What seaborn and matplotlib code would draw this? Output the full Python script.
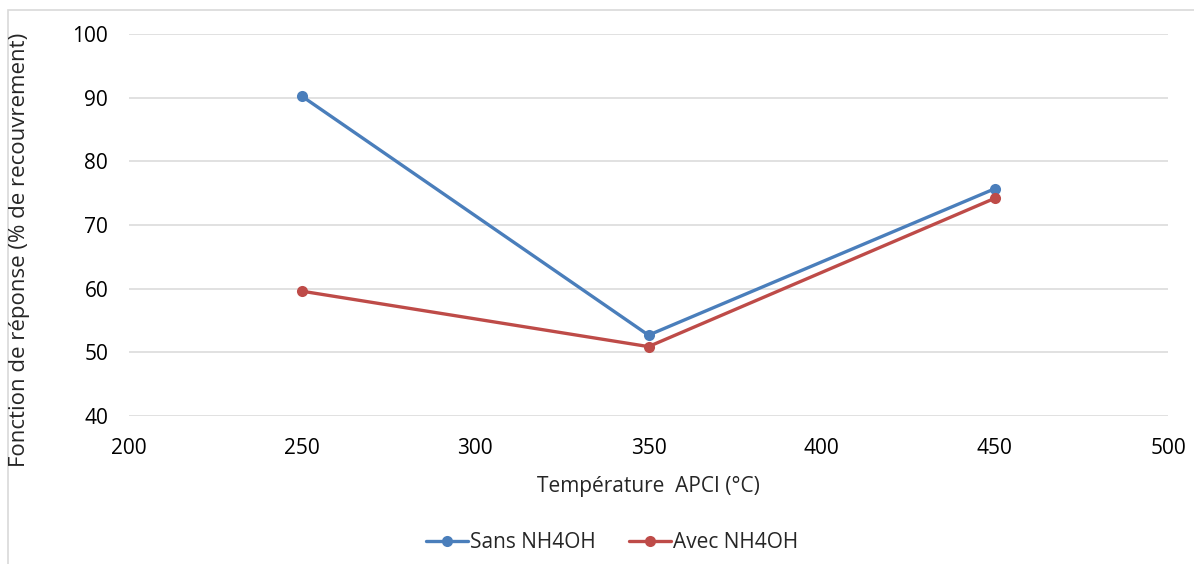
import matplotlib
matplotlib.use("Agg")
import matplotlib.pyplot as plt
import seaborn as sns
import pandas as pd
from matplotlib.patches import Rectangle
from matplotlib.lines import Line2D

temperatures = [250, 350, 450]
sans_nh4oh = [90.2, 52.7, 75.7]
avec_nh4oh = [59.6, 50.9, 74.2]
series_names = ["Sans NH4OH", "Avec NH4OH"]
colors = ["#4A7EBB", "#BE4B48"]
x_ticks = [200, 250, 300, 350, 400, 450, 500]
y_ticks = [40, 50, 60, 70, 80, 90, 100]

df = pd.DataFrame({
    "Température": temperatures * 2,
    "Valeur": sans_nh4oh + avec_nh4oh,
    "Série": [series_names[0]] * 3 + [series_names[1]] * 3,
})

sns.set_style("white")
plt.rcParams["font.family"] = ["Open Sans", "DejaVu Sans"]

fig = plt.figure(figsize=(11.94, 5.64), dpi=100)
ax = fig.add_axes([129 / 1194, 1 - 416 / 564, (1168 - 129) / 1194, (416 - 34) / 564])

sns.lineplot(data=df, x="Température", y="Valeur", hue="Série",
             palette=colors, marker="o", markersize=8, markeredgewidth=0,
             linewidth=2.4, ax=ax, legend=False)

ax.set_xlim(200, 500)
ax.set_ylim(40, 100)
ax.set_xticks(x_ticks)
ax.set_yticks(y_ticks)
ax.grid(axis="y", color="#D9D9D9", linewidth=1.1)
ax.grid(axis="x", visible=False)
for s in ax.spines.values():
    s.set_visible(False)
ax.tick_params(axis="both", length=0, labelsize=15, colors="#000000")
ax.tick_params(axis="x", pad=16)
ax.tick_params(axis="y", pad=15)
ax.set_xlabel("Température  APCI (°C)", fontsize=15, labelpad=12)
ax.set_ylabel("")

# y-axis label placed in figure coordinates (centered)
fig.text(20 / 1194, 1 - 250 / 564, "Fonction de réponse (% de recouvrement)",
         rotation=90, ha="center", va="center", fontsize=16)

handles = [Line2D([0], [0], color=c, linewidth=2.4, marker="o", markersize=8,
                  markeredgewidth=0) for c in colors]
fig.legend(handles, series_names, loc="center", bbox_to_anchor=(0.5126, 1 - 543 / 564),
           ncol=2, frameon=False, fontsize=15, handlelength=2.0, handletextpad=0.1,
           columnspacing=1.6)

fig.patches.append(Rectangle((8 / 1194, -0.1), 1.2, (1 - 10.5 / 564) + 0.1,
                             transform=fig.transFigure, fill=False,
                             edgecolor="#D9D9D9", linewidth=1.2, zorder=0))

fig.savefig("out.png", dpi=100, facecolor="white")
